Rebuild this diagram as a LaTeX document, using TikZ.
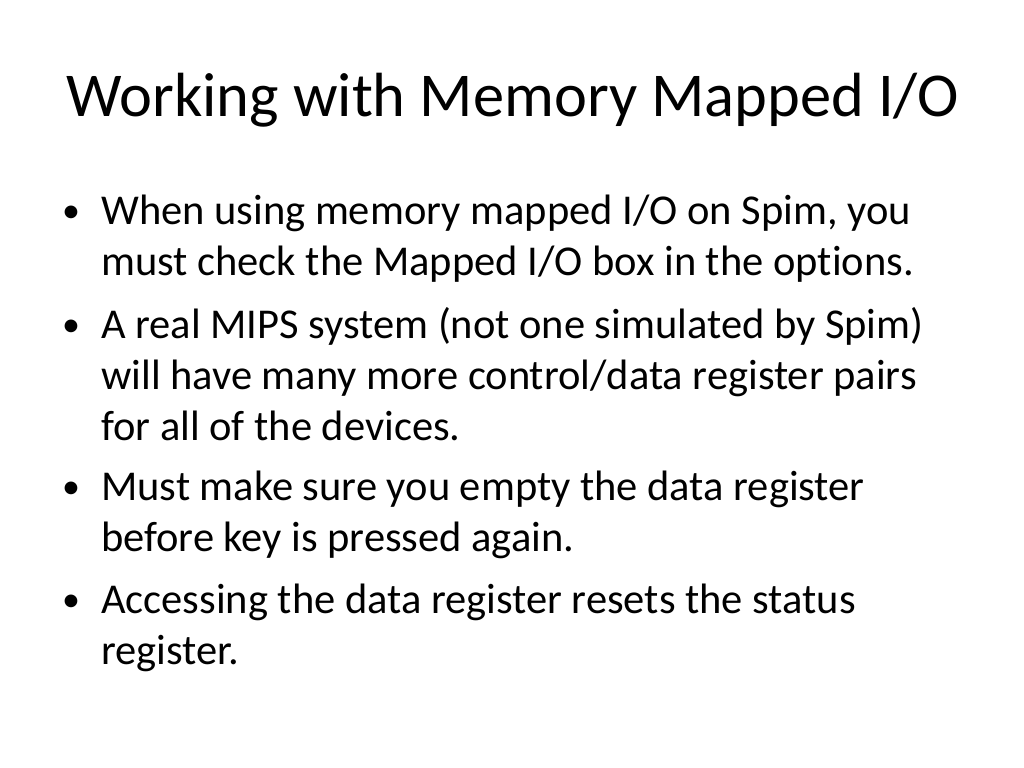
\documentclass[tikz,border=0pt]{standalone}
\usepackage{fontspec}
\setmainfont{Carlito}[Ligatures=NoCommon]
\begin{document}
\begin{tikzpicture}[x=1bp,y=-1bp,
  titletext/.style={anchor=base,inner sep=0pt,font=\fontsize{62.4bp}{70bp}\selectfont},
  bodytext/.style={anchor=base west,inner sep=0pt,font=\fontsize{42.5bp}{50bp}\selectfont},
  bulletmark/.style={anchor=base west,inner sep=0pt,font=\fontsize{36bp}{50bp}\selectfont}]
\useasboundingbox[fill=white] (0,0) rectangle (1024,768);
\node[titletext] (title) at (513,116) {Working with Memory Mapped I/O};
% bullet 1
\node[bulletmark] (b1) at (62,222) {•};
\node[bodytext] (l1a) at (101,224) {When using memory mapped I/O on Spim, you};
\node[bodytext] (l1b) at (101,275) {must check the Mapped I/O box in the options.};
% bullet 2
\node[bulletmark] (b2) at (62,336) {•};
\node[bodytext] (l2a) at (101,338) {A real MIPS system (not one simulated by Spim)};
\node[bodytext] (l2b) at (101,389) {will have many more control/data register pairs};
\node[bodytext] (l2c) at (101,440) {for all of the devices.};
% bullet 3
\node[bulletmark] (b3) at (62,498) {•};
\node[bodytext] (l3a) at (101,500) {Must make sure you empty the data register};
\node[bodytext] (l3b) at (101,551) {before key is pressed again.};
% bullet 4
\node[bulletmark] (b4) at (62,611) {•};
\node[bodytext] (l4a) at (101,613) {Accessing the data register resets the status};
\node[bodytext] (l4b) at (101,664) {register.};
\end{tikzpicture}
\end{document}
